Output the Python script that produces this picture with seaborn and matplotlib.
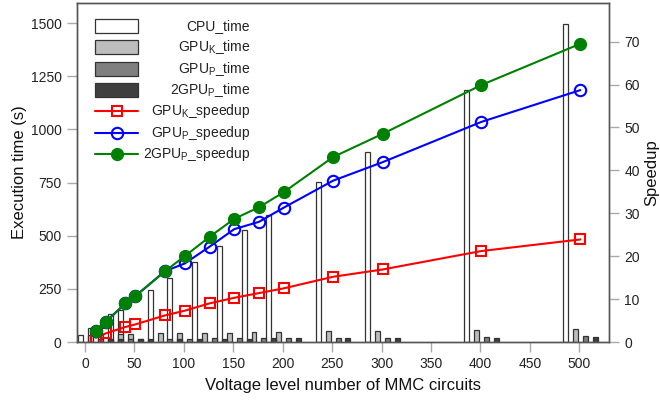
import numpy as np
import pandas as pd
import matplotlib
matplotlib.use("Agg")
import matplotlib.pyplot as plt
import seaborn as sns
from matplotlib.patches import Rectangle
from matplotlib.lines import Line2D

# ---- data ----
levels = [11, 21, 41, 51, 81, 101, 126, 151, 176, 201, 251, 301, 401, 501]
cpu_time = [35, 66, 130, 149, 246, 301, 376, 452, 526, 598, 753, 894, 1188, 1495]
gpuk_time = [35, 33, 37, 36, 40, 41, 42, 44, 46, 48, 50, 53, 56, 62]
gpup_time = [13, 14, 14, 14, 15, 16, 17, 17, 19, 19, 20, 21, 23, 26]
gpu2p_time = [13, 14, 14, 14, 15, 15, 15, 16, 17, 17, 18, 18, 20, 22]
gpuk_speedup = [1.0, 2.0, 3.5, 4.1, 6.2, 7.3, 9.0, 10.3, 11.4, 12.5, 15.2, 16.9, 21.2, 23.9]
gpup_speedup = [2.6, 4.7, 9.0, 10.7, 16.5, 18.3, 22.2, 26.3, 28.0, 31.3, 37.6, 41.9, 51.3, 58.7]
gpu2p_speedup = [2.6, 4.7, 9.0, 10.7, 16.5, 20.0, 24.5, 28.7, 31.4, 34.9, 43.1, 48.5, 59.9, 69.5]
x_ticks = [0, 50, 100, 150, 200, 250, 300, 350, 400, 450, 500]
y_ticks_left = [0, 250, 500, 750, 1000, 1250, 1500]
y_ticks_right = [0, 10, 20, 30, 40, 50, 60, 70]
bar_labels = ["CPU_time", "GPU$_{K}$_time", "GPU$_{P}$_time", "2GPU$_{P}$_time"]
line_labels = ["GPU$_{K}$_speedup", "GPU$_{P}$_speedup", "2GPU$_{P}$_speedup"]

sns.set_style("ticks")
plt.rcParams["font.family"] = ["Liberation Sans", "DejaVu Sans"]
plt.rcParams["mathtext.fontset"] = "custom"
plt.rcParams["mathtext.rm"] = "Liberation Sans"
plt.rcParams["mathtext.default"] = "regular"

W, H = 660, 404
fig = plt.figure(figsize=(W / 100, H / 100), dpi=100)
ax = fig.add_axes([77 / W, 1 - 342 / H, (609 - 77) / W, (342 - 3) / H])

bar_w = 5
bar_colors = ["white", "#bdbdbd", "#7f7f7f", "#3f3f3f"]
bar_offsets = [-15, -5, 5, 15]
for vals, col, off in zip([cpu_time, gpuk_time, gpup_time, gpu2p_time], bar_colors, bar_offsets):
    xs = np.array(levels) + off
    ax.bar(xs, vals, width=bar_w, color=col, edgecolor="#333333", linewidth=0.9, zorder=2)

ax.set_xlim(-8, 530)
ax.set_ylim(0, 1595)
ax.set_xticks(x_ticks)
ax.set_yticks(y_ticks_left)

ax2 = ax.twinx()
df = pd.DataFrame({"level": levels, "k": gpuk_speedup, "p": gpup_speedup, "p2": gpu2p_speedup})
line_styles = [
    dict(color="#ff0000", marker="s", markersize=7.5, markerfacecolor="none",
         markeredgecolor="#ff0000", markeredgewidth=1.5, linewidth=1.5),
    dict(color="#0000ff", marker="o", markersize=8.2, markerfacecolor="none",
         markeredgecolor="#0000ff", markeredgewidth=1.5, linewidth=1.5),
    dict(color="#008000", marker="o", markersize=8.5, markerfacecolor="#008000",
         markeredgecolor="#008000", markeredgewidth=1.0, linewidth=1.5),
]
for col, st in zip(["k", "p", "p2"], line_styles):
    sns.lineplot(data=df, x="level", y=col, ax=ax2, **st)
ax2.set_ylim(0, 79)
ax2.set_yticks(y_ticks_right)
ax2.set_xlim(-8, 530)

for a in (ax, ax2):
    a.tick_params(axis="both", direction="out", length=7, width=1, color="#aaaaaa",
                  labelcolor="#222222", labelsize=10, pad=4)
    for s in a.spines.values():
        s.set_color("#555555")
        s.set_linewidth(1)
        s.set_visible(True)

ax.set_xlabel("Voltage level number of MMC circuits", fontsize=12, color="#111111", labelpad=5)
ax.set_ylabel("Execution time (s)", fontsize=12, color="#111111", labelpad=2.5)
ax2.set_ylabel("Speedup", fontsize=12, color="#111111", labelpad=3)

# ---- legend drawn by hand (right-aligned labels, as in the reference) ----
def fx(px):
    return px / W

def fy(py):
    return 1 - py / H

row_y = [26, 47.3, 68.6, 89.9, 111.2, 132.5, 153.8]
hx0, hx1, text_right = 95, 138, 250
for i, (lab, col) in enumerate(zip(bar_labels, bar_colors)):
    y = row_y[i]
    fig.add_artist(Rectangle((fx(hx0), fy(y + 7)), fx(hx1) - fx(hx0), fy(y - 7) - fy(y + 7),
                             transform=fig.transFigure, facecolor=col, edgecolor="#333333",
                             linewidth=0.9))
    fig.text(fx(text_right), fy(y), lab, ha="right", va="center", fontsize=10, color="#222222")
for j, (lab, st) in enumerate(zip(line_labels, line_styles)):
    y = row_y[4 + j]
    fig.add_artist(Line2D([fx(hx0), fx(hx1)], [fy(y), fy(y)], transform=fig.transFigure,
                          color=st["color"], linewidth=1.5))
    mk = {k: v for k, v in st.items() if k.startswith("marker")}
    fig.add_artist(Line2D([fx((hx0 + hx1) / 2)], [fy(y)], transform=fig.transFigure,
                          linestyle="none", **mk))
    fig.text(fx(text_right), fy(y), lab, ha="right", va="center", fontsize=10, color="#222222")

fig.savefig("out.png", dpi=100)
